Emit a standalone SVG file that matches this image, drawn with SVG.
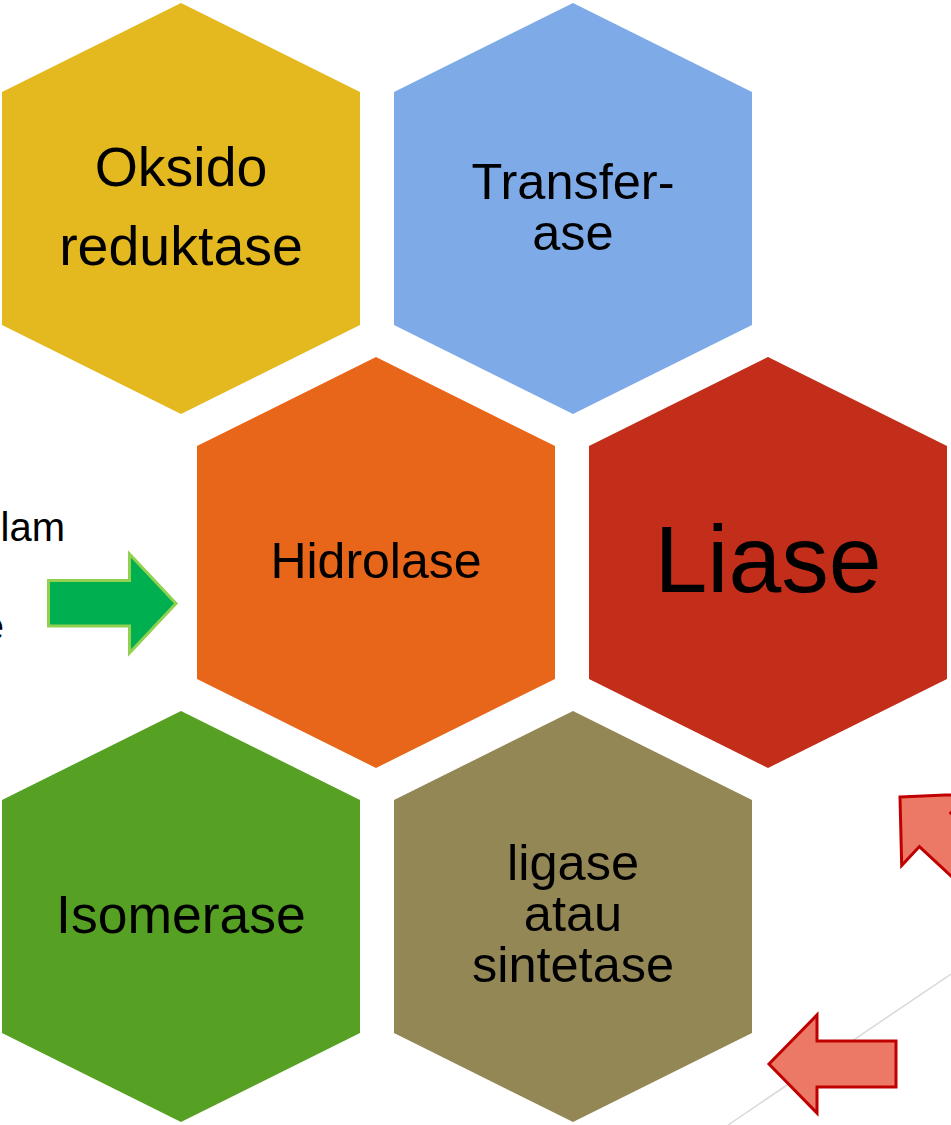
<svg xmlns="http://www.w3.org/2000/svg" xmlns:xlink="http://www.w3.org/1999/xlink" width="951" height="1125" viewBox="0 0 951 1125">
  <style>
    .lbl { font-family: "Liberation Sans", Arial, sans-serif; fill: #000; text-anchor: middle; }
    .side { font-family: "Liberation Sans", Arial, sans-serif; fill: #000; text-anchor: end; font-size: 40px; }
    .red-arrow { fill: #EC7866; stroke: #C00000; stroke-width: 3; stroke-linejoin: miter; }
    .green-arrow { fill: #00B050; stroke: #92D050; stroke-width: 3; stroke-linejoin: miter; }
  </style>
  <defs>
    <!-- pointy-top hexagon centred on the origin -->
    <path id="hex" d="M0,-205.5 L179,-116.5 L179,116.5 L0,205.5 L-179,116.5 L-179,-116.5 Z"/>
    <!-- block arrow pointing left, tip at the origin -->
    <path id="block-arrow" d="M0,0 L48,-49 L48,-23 L127,-23 L127,23 L48,23 L48,49 Z"/>
  </defs>

  <rect width="951" height="1125" fill="#fff"/>

  <!-- clipped side text at the left border -->
  <text class="side" x="65" y="541">lam</text>
  <text class="side" x="4" y="640">e</text>

  <g id="oksido">
    <use xlink:href="#hex" transform="translate(181,208.5)" fill="#E4B91F"/>
    <text class="lbl" font-size="55.5" x="181" y="186">Oksido</text>
    <text class="lbl" font-size="55.5" x="181" y="265">reduktase</text>
  </g>

  <g id="transferase">
    <use xlink:href="#hex" transform="translate(573,208.5)" fill="#7EAAE8"/>
    <text class="lbl" font-size="50.5" x="573" y="199">Transfer-</text>
    <text class="lbl" font-size="50.5" x="573" y="250">ase</text>
  </g>

  <g id="hidrolase">
    <use xlink:href="#hex" transform="translate(376,562.5)" fill="#E8661A"/>
    <text class="lbl" font-size="50" x="376" y="578">Hidrolase</text>
  </g>

  <g id="liase">
    <use xlink:href="#hex" transform="translate(768,562.5)" fill="#C32E1A"/>
    <text class="lbl" font-size="95" x="768" y="592">Liase</text>
  </g>

  <g id="isomerase">
    <use xlink:href="#hex" transform="translate(181,916.5)" fill="#56A124"/>
    <text class="lbl" font-size="53.5" x="181" y="933">Isomerase</text>
  </g>

  <g id="ligase">
    <use xlink:href="#hex" transform="translate(573,916.5)" fill="#938756"/>
    <text class="lbl" font-size="50.5" x="573" y="880">ligase</text>
    <text class="lbl" font-size="50.5" x="573" y="931">atau</text>
    <text class="lbl" font-size="50.5" x="573" y="982">sintetase</text>
  </g>

  <g id="connectors">
    <line x1="728" y1="1125" x2="951" y2="974" stroke="#D9D9D9" stroke-width="1.5"/>
    <!-- green arrow into Hidrolase -->
    <path class="green-arrow" d="M48.5,580.5 L129.5,580.5 L129.5,554 L176,603.5 L129.5,653 L129.5,626 L48.5,626 Z"/>
    <!-- red arrows at the lower right -->
    <use xlink:href="#block-arrow" class="red-arrow" transform="translate(900,797) rotate(43)"/>
    <use xlink:href="#block-arrow" class="red-arrow" transform="translate(769,1064)"/>
  </g>
</svg>
